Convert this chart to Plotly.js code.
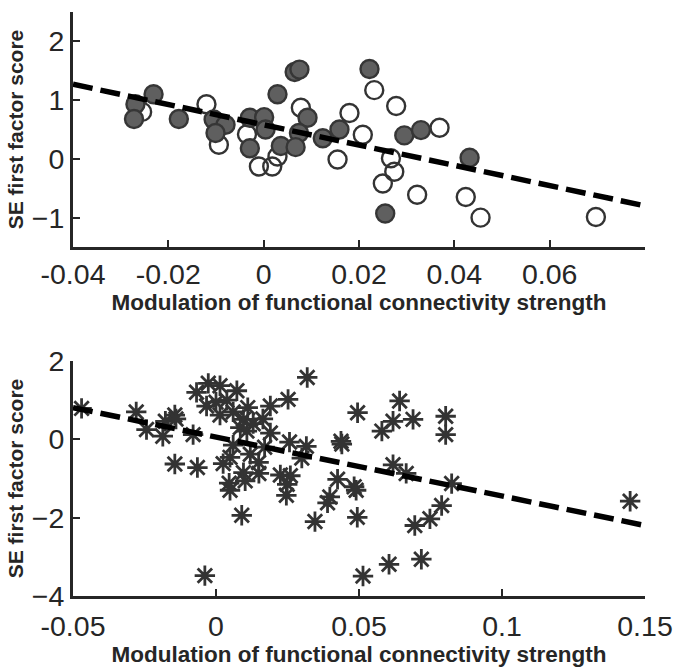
<!DOCTYPE html>
<html>
<head>
<meta charset="utf-8">
<script src="https://cdn.plot.ly/plotly-3.0.1.min.js"></script>
<style>html,body{margin:0;padding:0;background:#fff;}#chart{width:673px;height:668px;}</style>
</head>
<body>
<div id="chart"></div>
<script>
// ---- Top panel data ----
const topFilledX = [-0.0269,-0.0272,-0.0231,-0.0178,-0.0105,-0.0080,-0.0101,-0.0029,0.0001,0.0004,-0.0029,0.0036,0.0029,0.0065,0.0075,0.0092,0.0074,0.0067,0.0124,0.0159,0.0222,0.0295,0.0330,0.0432,0.0255];
const topFilledY = [0.93,0.68,1.10,0.68,0.67,0.58,0.44,0.70,0.71,0.50,0.18,0.22,1.10,1.48,1.52,0.70,0.44,0.20,0.35,0.50,1.53,0.40,0.49,0.02,-0.93];
const topOpenX = [-0.0255,-0.0120,-0.0094,-0.0035,-0.0010,0.0018,0.0029,0.0078,0.0180,0.0155,0.0208,0.0232,0.0250,0.0278,0.0369,0.0267,0.0274,0.0322,0.0424,0.0455,0.0697];
const topOpenY = [0.80,0.93,0.24,0.42,-0.13,-0.13,0.04,0.87,0.78,-0.01,0.41,1.17,-0.42,0.90,0.53,0.01,-0.22,-0.61,-0.65,-1.00,-0.99];
const topFitX = [-0.04, 0.08];
const topFitY = [1.27, -0.80];
const topXTicks = [-0.04,-0.02,0,0.02,0.04,0.06];
const topXTickText = ['-0.04','-0.02','0','0.02','0.04','0.06'];
const topYTicks = [-1,0,1,2];

// ---- Bottom panel data ----
const botX = [-0.0470,-0.0279,-0.0243,-0.0186,-0.0177,-0.0144,-0.0140,-0.0144,-0.0065,-0.0080,-0.0068,-0.0027,0.0014,0.0073,-0.0033,0.0014,0.0038,0.0096,0.0111,0.0190,0.0252,0.0319,0.0085,0.0108,0.0164,0.0190,0.0257,0.0316,0.0300,0.0049,0.0120,0.0149,0.0096,0.0150,0.0102,0.0046,0.0049,0.0225,0.0260,0.0249,0.0246,0.0090,0.0346,0.0437,0.0440,0.0425,0.0398,0.0390,0.0483,0.0490,0.0494,0.0495,0.0580,0.0619,0.0642,0.0689,0.0803,0.0803,0.0619,0.0665,0.0824,0.0789,0.0748,0.0695,0.0718,0.0605,0.0514,-0.0039,0.1448,0.0000,0.0060,0.0130,0.0060,0.0025,0.0170];
const botY = [0.79,0.70,0.25,0.08,0.46,0.62,0.52,-0.63,-0.72,0.12,1.20,1.43,1.37,1.24,0.85,0.62,1.00,0.51,0.81,0.85,1.02,1.58,0.30,0.21,0.52,0.16,-0.07,-0.18,-0.48,-0.46,-0.38,-0.59,-0.85,-0.87,-1.06,-1.12,-1.30,-0.91,-0.93,-1.15,-1.43,-1.94,-2.10,-0.05,-0.12,-1.02,-1.47,-1.62,-1.21,-1.30,-1.99,0.68,0.21,0.46,0.98,0.51,0.59,0.12,-0.65,-0.87,-1.13,-1.69,-2.03,-2.20,-3.06,-3.19,-3.49,-3.48,-1.58,0.95,0.70,0.40,-0.15,-0.62,-0.20];
const botFitX = [-0.05, 0.15];
const botFitY = [0.81, -2.20];
const botXTicks = [-0.05,0,0.05,0.1,0.15];
const botXTickText = ['-0.05','0','0.05','0.1','0.15'];
const botYTicks = [-4,-2,0,2];

const xTitle = 'Modulation of functional connectivity strength';
const yTitle = 'SE first factor score';

const axisColor = '#262626';
const fontFam = 'Arial, "Liberation Sans", sans-serif';

const traces = [
  {x: topOpenX, y: topOpenY, xaxis:'x', yaxis:'y', type:'scatter', mode:'markers',
   marker:{symbol:'circle-open', size:18, color:'#333333', line:{width:2.4, color:'#333333'}}},
  {x: topFilledX, y: topFilledY, xaxis:'x', yaxis:'y', type:'scatter', mode:'markers',
   marker:{symbol:'circle', size:18, color:'#5f5f5f', line:{width:2.4, color:'#363636'}}},
  {x: topFitX, y: topFitY, xaxis:'x', yaxis:'y', type:'scatter', mode:'lines',
   line:{color:'#000000', width:5.5, dash:'20px,8px'}},
  {x: botX, y: botY, xaxis:'x2', yaxis:'y2', type:'scatter', mode:'markers',
   marker:{symbol:'asterisk-open', size:17, color:'#333333', line:{width:2.8, color:'#333333'}}},
  {x: botFitX, y: botFitY, xaxis:'x2', yaxis:'y2', type:'scatter', mode:'lines',
   line:{color:'#000000', width:5.5, dash:'20px,8px'}}
];

function xax(range, tv, tt, anchor, lblOff, titleOff) {
  return {range: range, tickvals: tv, ticktext: tt, anchor: anchor,
    showline:true, linecolor:axisColor, linewidth:3, mirror:false,
    ticks:'inside', ticklen:7, tickwidth:2, tickcolor:axisColor,
    showgrid:false, zeroline:false, ticklabeloverflow:'allow', ticklabelstandoff:lblOff,
    tickfont:{family:fontFam, size:28.5, color:axisColor},
    title:{text:xTitle, font:{family:fontFam, size:22.5, color:axisColor, weight:'bold'}, standoff:titleOff}};
}
function yax(range, tv, anchor, domain) {
  return {range: range, tickvals: tv, anchor: anchor, domain: domain,
    showline:true, linecolor:axisColor, linewidth:3, mirror:false,
    ticks:'inside', ticklen:7, tickwidth:2, tickcolor:axisColor,
    showgrid:false, zeroline:false, ticklabeloverflow:'allow',
    tickfont:{family:fontFam, size:28.5, color:axisColor},
    title:{text:yTitle, font:{family:fontFam, size:21, color:axisColor, weight:'bold'}, standoff:3}};
}

const layout = {
  width:673, height:668,
  margin:{l:73, r:28, t:12, b:72},
  paper_bgcolor:'#ffffff', plot_bgcolor:'#ffffff',
  showlegend:false,
  font:{family:fontFam, color:axisColor},
  xaxis: xax([-0.04,0.08], topXTicks, topXTickText, 'y', 0, 4),
  yaxis: yax([-1.5,2.5], topYTicks, 'x', [0.5976,1]),
  xaxis2: xax([-0.05,0.15], botXTicks, botXTickText, 'y2', 3, 0),
  yaxis2: yax([-4,2], botYTicks, 'x2', [0,0.4024])
};

Plotly.newPlot('chart', traces, layout, {staticPlot:true, displayModeBar:false});
</script>
</body>
</html>
